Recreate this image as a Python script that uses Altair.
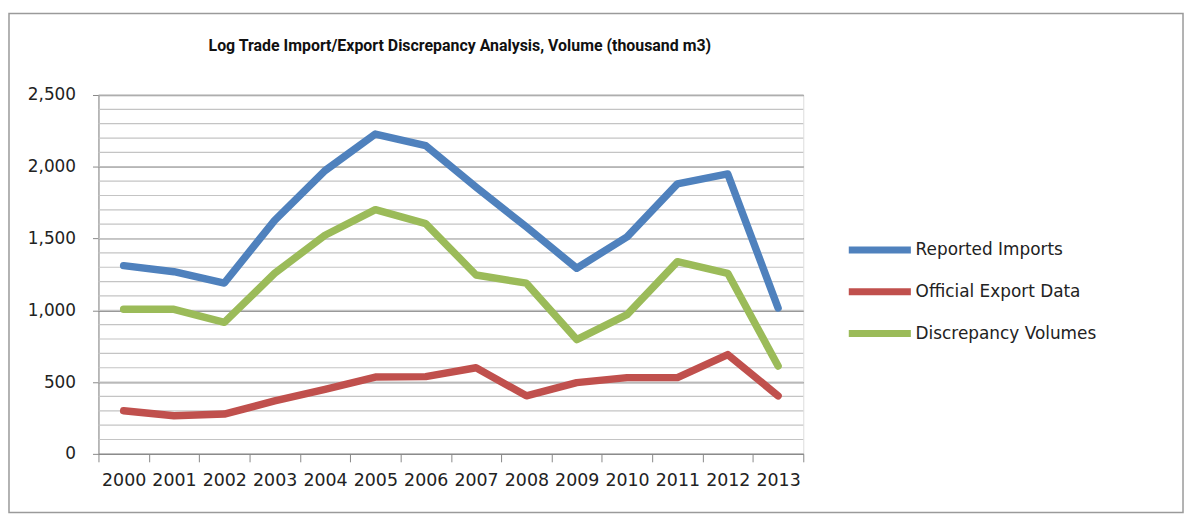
import altair as alt
import pandas as pd

years = [str(y) for y in range(2000, 2014)]
reported_imports = [1311, 1269, 1190, 1627, 1973, 2228, 2147, 1858, 1581, 1293, 1512, 1881, 1950, 1016]
official_exports = [300, 265, 277, 369, 450, 535, 538, 600, 404, 496, 531, 531, 692, 404]
discrepancy = [1007, 1007, 916, 1258, 1523, 1701, 1604, 1246, 1189, 796, 970, 1339, 1258, 612]

series_names = ["Reported Imports", "Official Export Data", "Discrepancy Volumes"]
series_colors = ["#4F81BD", "#C0504D", "#9BBB59"]
minor_ticks = list(range(100, 2600, 100))
major_ticks = list(range(0, 2600, 500))

rows = []
for name, vals in zip(series_names, [reported_imports, official_exports, discrepancy]):
    for yr, v in zip(years, vals):
        rows.append({"Year": yr, "Value": v, "Series": name})
df = pd.DataFrame(rows)
grid_df = pd.DataFrame({"g": minor_ticks})

FONT = "DejaVu Sans"

y_axis = alt.Axis(
    title=None, values=major_ticks, format=",.0f", labelFontSize=17, labelFont=FONT,
    labelColor="#222", tickSize=6, tickColor="#888", domainColor="#888",
    gridColor="#999999", gridWidth=1.5, labelPadding=17,
)
y_scale = alt.Scale(domain=[0, 2500])

frame = alt.Chart(pd.DataFrame({"a": [0]})).mark_rect(
    fill=None, stroke="#9a9a9a", strokeWidth=1.5, clip=False
).encode(
    x=alt.value(-90), x2=alt.value(1091), y=alt.value(-82), y2=alt.value(420)
)

minor = alt.Chart(grid_df).mark_rule(color="#c4c4c4", strokeWidth=1.2).encode(
    y=alt.Y("g:Q", scale=y_scale, axis=y_axis)
)

lines = alt.Chart(df).mark_line(strokeWidth=7.5, strokeJoin="round", strokeCap="round").encode(
    x=alt.X(
        "Year:O",
        sort=years,
        scale=alt.Scale(paddingInner=0, paddingOuter=0),
        axis=alt.Axis(
            title=None, labelAngle=0, labelFontSize=17.5, labelFont=FONT, labelColor="#222",
            tickBand="extent", tickSize=8, tickColor="#888", domainColor="#888",
            labelPadding=10, grid=False,
        ),
    ),
    y=alt.Y("Value:Q", scale=y_scale, axis=y_axis),
    color=alt.Color(
        "Series:N",
        sort=series_names,
        scale=alt.Scale(domain=series_names, range=series_colors),
        legend=alt.Legend(
            title=None, orient="none", legendX=751, legendY=144,
            symbolType="stroke", symbolSize=3900, symbolStrokeWidth=7,
            labelFontSize=17, labelFont=FONT, labelColor="#222",
            clipHeight=24, rowPadding=18,
            labelOffset=1, labelLimit=400,
        ),
    ),
)

chart = alt.layer(frame, minor, lines).properties(
    width=709,
    height=361,
    autosize=alt.AutoSizeParams(type="none"),
    padding={"left": 91, "top": 86, "right": 384, "bottom": 60},
    title=alt.TitleParams(
        "Log Trade Import/Export Discrepancy Analysis, Volume (thousand m3)",
        font="Roboto", fontSize=16, fontWeight="bold", color="#111",
        anchor="middle", dx=9, offset=-42,
    ),
).configure_view(stroke=None).configure(background="white")

chart.save("out.html", embed_options={"renderer": "svg", "actions": False})
